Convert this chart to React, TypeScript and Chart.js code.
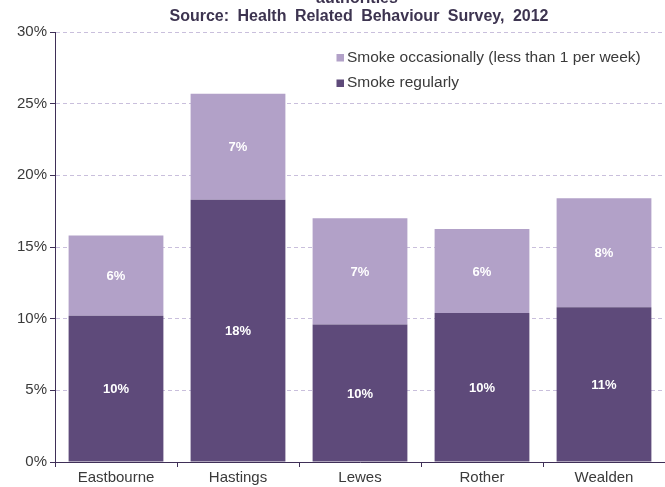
import React, { useEffect, useRef } from "react";
import { Chart, registerables } from "chart.js";

Chart.register(...registerables);

const categories = ["Eastbourne", "Hastings", "Lewes", "Rother", "Wealden"];
const smokeRegularly = [10.2, 18.3, 9.6, 10.4, 10.8];
const smokeOccasionally = [5.6, 7.4, 7.4, 5.85, 7.6];
const seriesLabels = ["Smoke regularly", "Smoke occasionally (less than 1 per week)"];
const titleLines = ["authorities", "Source: Health Related Behaviour Survey, 2012"];
const yMin = 0;
const yMax = 30;
const yStep = 5;

const FONT = "'Liberation Sans', Arial, Helvetica, sans-serif";
const DARK = "#5E4A7A";
const LIGHT = "#B2A1C8";
const AXIS = "#3F2F57";
const GRID = "#C9BFDC";
const TEXT = "#3A3A3A";
const TITLE = "#3D3450";

const overlayPlugin = {
  id: "overlay",
  afterDatasetsDraw(chart: any) {
    const ctx = chart.ctx;
    ctx.save();
    ctx.fillStyle = "#FFFFFF";
    ctx.font = `bold 13px ${FONT}`;
    ctx.textAlign = "center";
    ctx.textBaseline = "middle";
    chart.data.datasets.forEach((ds: any, di: number) => {
      const meta = chart.getDatasetMeta(di);
      meta.data.forEach((el: any, i: number) => {
        const p = el.getProps(["x", "y", "base"], true);
        const v = ds.data[i];
        ctx.fillText(Math.round(v) + "%", p.x, (p.y + p.base) / 2 + 1);
      });
    });
    ctx.restore();
  },
  afterDraw(chart: any) {
    const ctx = chart.ctx;
    const area = chart.chartArea;
    ctx.save();
    ctx.fillStyle = TITLE;
    ctx.font = `bold 16px ${FONT}`;
    ctx.textAlign = "center";
    ctx.textBaseline = "alphabetic";
    try {
      (ctx as any).wordSpacing = "4px";
    } catch (e) {}
    const cx = (area.left + area.right) / 2;
    ctx.fillText(titleLines[0], cx - 3, 2.5);
    ctx.fillText(titleLines[1], cx - 1, 20.5);
    try {
      (ctx as any).wordSpacing = "0px";
    } catch (e) {}
    ctx.font = `15.5px ${FONT}`;
    ctx.textAlign = "left";
    ctx.textBaseline = "middle";
    const items = chart.data.datasets.slice().reverse();
    items.forEach((ds: any, k: number) => {
      const y = 57.5 + k * 25.5;
      ctx.fillStyle = ds.backgroundColor;
      ctx.fillRect(336.5, y - 3.5, 7.5, 7.5);
      ctx.fillStyle = TEXT;
      ctx.fillText(ds.label, 347, y);
    });
    ctx.restore();
  },
};

export default function App() {
  const ref = useRef<HTMLCanvasElement | null>(null);

  useEffect(() => {
    if (!ref.current) return;
    const chart = new Chart(ref.current, {
      type: "bar",
      data: {
        labels: categories,
        datasets: [
          {
            label: seriesLabels[0],
            data: smokeRegularly,
            backgroundColor: DARK,
            borderWidth: 0,
            categoryPercentage: 1,
            barPercentage: 0.777,
          },
          {
            label: seriesLabels[1],
            data: smokeOccasionally,
            backgroundColor: LIGHT,
            borderWidth: 0,
            categoryPercentage: 1,
            barPercentage: 0.777,
          },
        ],
      },
      options: {
        responsive: false,
        animation: false,
        layout: { padding: { top: 32, left: 0, right: 0, bottom: 0 } },
        plugins: {
          legend: { display: false },
          title: { display: false },
          tooltip: { enabled: false },
        },
        scales: {
          x: {
            stacked: true,
            offset: true,
            grid: {
              display: true,
              drawOnChartArea: false,
              offset: true,
              drawTicks: true,
              tickLength: 5,
              tickColor: AXIS,
            },
            border: { display: true, color: AXIS, width: 1 },
            ticks: { color: TEXT, font: { family: FONT, size: 15 }, padding: 2, maxRotation: 0 },
            afterFit: (s: any) => {
              s.height = 25;
            },
          },
          y: {
            stacked: true,
            min: yMin,
            max: yMax,
            grid: {
              color: GRID,
              tickColor: AXIS,
              tickLength: 5,
              drawTicks: true,
            },
            border: { display: true, color: AXIS, width: 1, dash: [4, 3] },
            ticks: {
              stepSize: yStep,
              color: TEXT,
              font: { family: FONT, size: 15 },
              padding: 3,
              callback: (v: any) => v + "%",
            },
            afterFit: (s: any) => {
              s.width = 55;
            },
          },
        },
      },
      plugins: [overlayPlugin],
    });
    return () => chart.destroy();
  }, []);

  return (
    <div style={{ position: "fixed", left: 0, top: 0, width: 665, height: 487, background: "#fff" }}>
      <canvas ref={ref} width={665} height={487} style={{ display: "block" }} />
    </div>
  );
}
